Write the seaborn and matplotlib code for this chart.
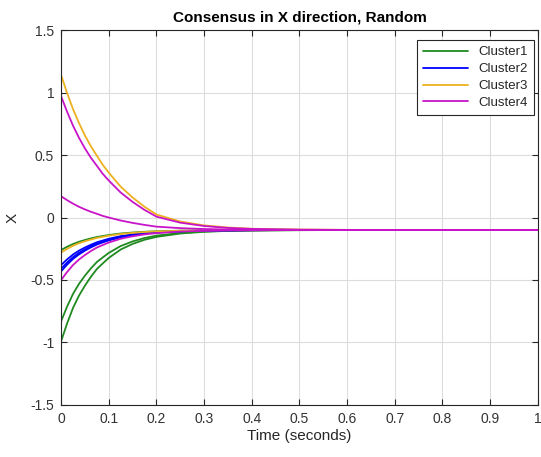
import pandas as pd
import matplotlib.pyplot as plt
import seaborn as sns

# Time samples (seconds)
time = [0, 0.0125, 0.025, 0.0375, 0.05, 0.0625, 0.075, 0.0875, 0.1, 0.125, 0.15,
        0.175, 0.2, 0.25, 0.3, 0.35, 0.4, 0.5, 0.6, 0.8, 1.0]

# Cluster1 (green)
c1_a = [-0.99, -0.848, -0.723, -0.625, -0.545, -0.474, -0.412, -0.367, -0.323, -0.256, -0.211,
        -0.178, -0.155, -0.128, -0.114, -0.107, -0.104, -0.101, -0.1, -0.1, -0.1]
c1_b = [-0.83, -0.713, -0.611, -0.531, -0.465, -0.407, -0.356, -0.319, -0.283, -0.228, -0.191,
        -0.164, -0.145, -0.123, -0.112, -0.106, -0.103, -0.101, -0.1, -0.1, -0.1]
c1_c = [-0.26, -0.234, -0.212, -0.194, -0.18, -0.167, -0.156, -0.148, -0.14, -0.128, -0.12,
        -0.114, -0.11, -0.105, -0.103, -0.101, -0.101, -0.1, -0.1, -0.1, -0.1]

# Cluster2 (blue)
c2_a = [-0.38, -0.335, -0.296, -0.265, -0.24, -0.218, -0.198, -0.184, -0.17, -0.149, -0.135,
        -0.125, -0.117, -0.109, -0.104, -0.102, -0.101, -0.1, -0.1, -0.1, -0.1]
c2_b = [-0.41, -0.36, -0.317, -0.283, -0.255, -0.23, -0.209, -0.193, -0.178, -0.154, -0.139,
        -0.127, -0.119, -0.11, -0.105, -0.102, -0.101, -0.1, -0.1, -0.1, -0.1]
c2_c = [-0.43, -0.377, -0.331, -0.295, -0.265, -0.239, -0.216, -0.199, -0.183, -0.158, -0.141,
        -0.129, -0.12, -0.11, -0.105, -0.103, -0.101, -0.1, -0.1, -0.1, -0.1]

# Cluster3 (yellow)
c3_a = [1.14, 0.997, 0.867, 0.756, 0.656, 0.57, 0.495, 0.421, 0.359, 0.247, 0.16,
        0.086, 0.024, -0.032, -0.063, -0.08, -0.09, -0.096, -0.099, -0.1, -0.1]
c3_b = [-0.28, -0.251, -0.226, -0.206, -0.19, -0.176, -0.163, -0.154, -0.145, -0.132, -0.123,
        -0.116, -0.111, -0.106, -0.103, -0.101, -0.101, -0.1, -0.1, -0.1, -0.1]

# Cluster4 (magenta)
c4_a = [0.97, 0.847, 0.735, 0.638, 0.553, 0.478, 0.414, 0.349, 0.296, 0.2, 0.125,
        0.061, 0.007, -0.041, -0.068, -0.083, -0.091, -0.097, -0.099, -0.1, -0.1]
c4_b = [0.17, 0.139, 0.111, 0.086, 0.065, 0.046, 0.03, 0.013, 0.0, -0.024, -0.043,
        -0.059, -0.073, -0.085, -0.092, -0.096, -0.098, -0.099, -0.1, -0.1, -0.1]
c4_c = [-0.5, -0.436, -0.38, -0.336, -0.3, -0.268, -0.24, -0.22, -0.2, -0.17, -0.15,
        -0.135, -0.125, -0.112, -0.106, -0.103, -0.102, -0.1, -0.1, -0.1, -0.1]

series = {
    "Cluster1": [c1_a, c1_b, c1_c],
    "Cluster2": [c2_a, c2_b, c2_c],
    "Cluster3": [c3_a, c3_b],
    "Cluster4": [c4_a, c4_b, c4_c],
}
colors = {"Cluster1": "#1f8a1f", "Cluster2": "#0000ff",
          "Cluster3": "#EDB120", "Cluster4": "#c814c8"}

# Long-form table for seaborn
rows = []
for cluster, lines in series.items():
    for i, vals in enumerate(lines):
        for t, v in zip(time, vals):
            rows.append({"Time": t, "X": v, "Cluster": cluster, "line": f"{cluster}_{i}"})
df = pd.DataFrame(rows)

sns.set_theme(style="whitegrid")
plt.rcParams["font.family"] = ["Liberation Sans", "DejaVu Sans"]

fig = plt.figure(figsize=(5.41, 4.57), dpi=100)
ax = fig.add_axes([0.113, 0.114, 0.881, 0.820])

sns.lineplot(data=df, x="Time", y="X", hue="Cluster", units="line", estimator=None,
             palette=colors, linewidth=1.3, ax=ax)

ax.set_xlim(0, 1)
ax.set_ylim(-1.5, 1.5)
ax.set_xticks([0, 0.1, 0.2, 0.3, 0.4, 0.5, 0.6, 0.7, 0.8, 0.9, 1])
ax.set_xticklabels(["0", "0.1", "0.2", "0.3", "0.4", "0.5", "0.6", "0.7", "0.8", "0.9", "1"])
ax.set_yticks([-1.5, -1, -0.5, 0, 0.5, 1, 1.5])
ax.set_yticklabels(["-1.5", "-1", "-0.5", "0", "0.5", "1", "1.5"])

ax.set_facecolor("white")
ax.grid(True, color="#dcdcdc", linewidth=0.8)
for sp in ax.spines.values():
    sp.set_visible(True)
    sp.set_color("#262626")
    sp.set_linewidth(0.8)
ax.tick_params(direction="in", length=4, width=0.8, colors="#262626",
               labelcolor="#333333", labelsize=10, top=True, right=True,
               bottom=True, left=True, pad=5)

ax.set_xlabel("Time (seconds)", fontsize=11, color="#262626", labelpad=2)
ax.set_ylabel("X", fontsize=11, color="#262626", labelpad=8)
ax.set_title("Consensus in X direction, Random", fontsize=11, fontweight="bold",
             color="black", pad=6)

leg = ax.legend(loc="upper right", fontsize=9.5, frameon=True, fancybox=False,
                framealpha=1, edgecolor="#262626", borderpad=0.45,
                handlelength=3.4, labelspacing=0.35, title=None,
                borderaxespad=0.2, bbox_to_anchor=(0.998, 0.98))
leg.get_frame().set_linewidth(0.8)

fig.savefig("out.png", dpi=100, facecolor="white")
